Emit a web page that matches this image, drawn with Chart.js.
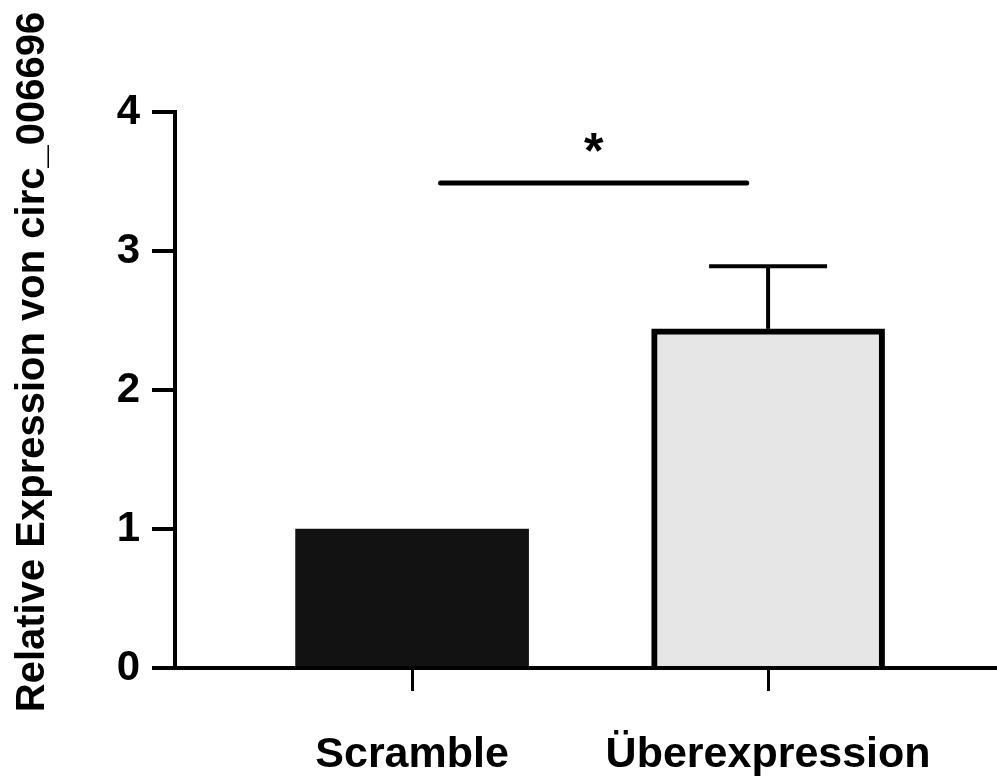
<!DOCTYPE html>
<html lang="de">
  <head>
    <meta charset="UTF-8" />
    <title>Relative Expression von circ_006696</title>
    <script src="https://cdn.jsdelivr.net/npm/chart.js"></script>
    <style>
      html, body { margin: 0; padding: 0; background: #fff; }
      #wrap { width: 997px; height: 780px; }
    </style>
  </head>
  <body>
    <div id="wrap"><canvas id="chart"></canvas></div>
    <script>
      // data
      const categories = ["Scramble", "Überexpression"];
      const means = [1.0, 2.44];
      const errUpper = [null, 2.89];
      const barColors = ["#121212", "#e6e6e6"];
      const yTicks = [0, 1, 2, 3, 4];
      const yTitle = "Relative Expression von circ_006696";
      // significance bracket (x in category units, y in data units)
      const sigFrom = 0.08;
      const sigTo = 0.94;
      const sigY = 3.49;
      const sigLabel = "*";
      const sigLabelY = 3.77;

      const FONT = "'Liberation Sans', Arial, sans-serif";

      const extras = {
        id: "extras",
        afterDatasetsDraw(chart) {
          const ctx = chart.ctx;
          const x = chart.scales.x;
          const y = chart.scales.y;
          ctx.save();
          ctx.strokeStyle = "#000";
          ctx.lineCap = "butt";
          // error bars (upper only)
          errUpper.forEach((v, i) => {
            if (v == null) return;
            const cx = x.getPixelForValue(i);
            const top = y.getPixelForValue(v);
            const base = y.getPixelForValue(means[i]);
            ctx.lineWidth = 4;
            ctx.beginPath();
            ctx.moveTo(cx, base);
            ctx.lineTo(cx, top);
            ctx.stroke();
            ctx.beginPath();
            ctx.moveTo(cx - 59, top);
            ctx.lineTo(cx + 59, top);
            ctx.stroke();
          });
          // significance line and star
          ctx.lineWidth = 5;
          ctx.lineCap = "round";
          ctx.beginPath();
          ctx.moveTo(x.getPixelForValue(sigFrom), y.getPixelForValue(sigY));
          ctx.lineTo(x.getPixelForValue(sigTo), y.getPixelForValue(sigY));
          ctx.stroke();
          ctx.fillStyle = "#000";
          ctx.font = "bold 50px " + FONT;
          ctx.textAlign = "center";
          ctx.textBaseline = "middle";
          ctx.fillText(
            sigLabel,
            x.getPixelForValue((sigFrom + sigTo) / 2),
            y.getPixelForValue(sigLabelY) + 10
          );
          // y axis title
          ctx.translate(44, 362);
          ctx.rotate(-Math.PI / 2);
          ctx.font = "bold 40px " + FONT;
          ctx.textBaseline = "alphabetic";
          ctx.fillText(yTitle, 0, 0);
          ctx.restore();
        },
      };

      new Chart(document.getElementById("chart"), {
        type: "bar",
        data: {
          datasets: [
            {
              data: means.map((v, i) => ({ x: i, y: v })),
              backgroundColor: barColors,
              borderColor: ["#121212", "#000"],
              borderWidth: [0, 6],
              borderSkipped: "bottom",
              barThickness: 233,
            },
          ],
        },
        options: {
          responsive: true,
          maintainAspectRatio: false,
          animation: false,
          layout: { padding: { top: 112, right: 0, left: 0, bottom: 0 } },
          plugins: {
            legend: { display: false },
            tooltip: { enabled: false },
          },
          scales: {
            x: {
              type: "linear",
              min: -0.666,
              max: 1.643,
              offset: false,
              afterBuildTicks: (axis) => {
                axis.ticks = categories.map((c, i) => ({ value: i }));
              },
              afterFit: (axis) => {
                axis.height = 112;
              },
              ticks: {
                callback: (v) => categories[v],
                color: "#000",
                font: { family: FONT, size: 43, weight: "bold" },
                padding: 38,
                maxRotation: 0,
                autoSkip: false,
              },
              grid: {
                display: true,
                offset: false,
                drawOnChartArea: false,
                drawTicks: true,
                tickLength: 23,
                lineWidth: 3,
                color: "#000",
              },
              border: { display: true, width: 4, color: "#000" },
            },
            y: {
              min: 0,
              max: 4,
              afterBuildTicks: (axis) => {
                axis.ticks = yTicks.map((v) => ({ value: v }));
              },
              afterFit: (axis) => {
                axis.width = 175;
              },
              ticks: {
                color: "#000",
                font: { family: FONT, size: 42, weight: "bold" },
                padding: 12,
              },
              grid: {
                display: true,
                drawOnChartArea: false,
                drawTicks: true,
                tickLength: 23,
                lineWidth: 4,
                color: "#000",
              },
              border: { display: true, width: 4, color: "#000" },
            },
          },
        },
        plugins: [extras],
      });
    </script>
  </body>
</html>
